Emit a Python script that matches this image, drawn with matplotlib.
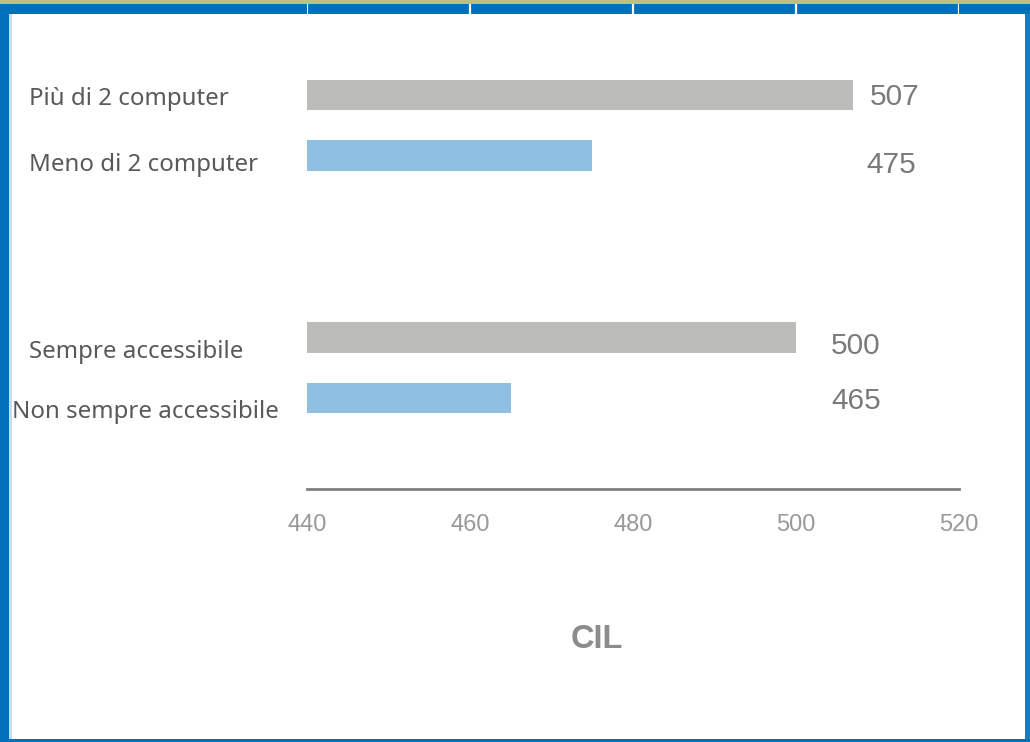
import matplotlib.pyplot as plt
from matplotlib.patches import Rectangle
from matplotlib.transforms import blended_transform_factory

# CIL scores by computer availability / access
categories = ["Più di 2 computer", "Meno di 2 computer",
              "Sempre accessibile", "Non sempre accessibile"]
scores = [507, 475, 500, 465]
bar_colors = ["#bcbdba", "#90c0e1", "#bcbdba", "#90c0e1"]
y_pos = [0, 1, 4, 5]

# where the value labels sit (data x) and small nudges for the text
label_x = [509.0, 508.6, 504.3, 504.4]
label_dy = [2, 9, 9, 3]
cat_x = [29, 29, 29, 12]
cat_dy = [4, 9, 15, 14]

W, H = 1030, 742
fig = plt.figure(figsize=(W / 100, H / 100), dpi=100)
fig.patch.set_facecolor("white")

# frame around the chart
def band(x0, y0, x1, y1, color):
    fig.add_artist(Rectangle((x0 / W, 1 - y1 / H), (x1 - x0) / W, (y1 - y0) / H,
                             transform=fig.transFigure, facecolor=color,
                             edgecolor="none", zorder=0))

band(0, 0, W, 4, "#bfc07f")
band(0, 4, W, 14, "#0070b8")
band(0, 4, 9, H, "#0070b8")
band(9, 14, 12, H - 3, "#c4def1")
band(1025, 14, W, H, "#1a7cc0")
band(0, H - 3, W, H, "#0070b8")

ax = fig.add_axes([307 / W, 1 - 489 / H, (959 - 307) / W, (489 - 4) / H], zorder=2)
ax.patch.set_alpha(0)

ax.barh(y_pos, [s - 440 for s in scores], left=440, height=0.5,
        color=bar_colors, zorder=3)

ax.set_xlim(440, 520)
ax.set_ylim(6.5, -1.5)
ax.set_xticks([440, 460, 480, 500, 520])
ax.grid(axis="x", color="white", linewidth=1.6, zorder=1)
ax.set_yticks([])
for side in ["left", "right", "top"]:
    ax.spines[side].set_visible(False)
ax.spines["bottom"].set_color("#7f7f7f")
ax.spines["bottom"].set_linewidth(2)
ax.tick_params(axis="x", length=0, pad=18, labelsize=17, labelcolor="#999999")
for lbl in ax.get_xticklabels():
    lbl.set_fontfamily("Liberation Sans")

for y, s, lx, dy in zip(y_pos, scores, label_x, label_dy):
    ax.annotate(str(s), xy=(lx, y), xytext=(0, -dy), textcoords="offset pixels",
                ha="left", va="center", fontsize=21.5, color="#7a7a7a",
                family="Liberation Sans")

tr = blended_transform_factory(fig.transFigure, ax.transData)
for y, name, cx, dy in zip(y_pos, categories, cat_x, cat_dy):
    ax.annotate(name, xy=(cx / W, y), xycoords=tr, xytext=(0, -dy),
                textcoords="offset pixels", ha="left", va="center",
                fontsize=17.3, color="#595959", family="Noto Sans")

fig.text(597 / W, 1 - 639 / H, "CIL", ha="center", va="center", fontsize=23.5,
         fontweight="bold", color="#8c8c8c", family="Liberation Sans")

fig.savefig("out.png", dpi=100)
